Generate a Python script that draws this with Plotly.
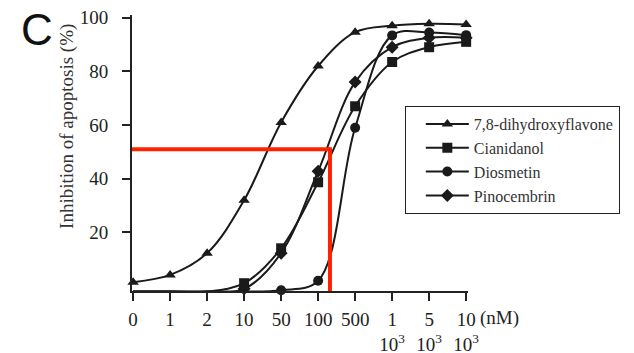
import plotly.graph_objects as go

# Concentrations (categorical positions)
conc_labels = ["0", "1", "2", "10", "50", "100", "500",
               "1<br>10<sup>3</sup>", "5<br>10<sup>3</sup>", "10<br>10<sup>3</sup>"]
x_idx = list(range(len(conc_labels)))

dhf = [1.5, 4.2, 12.3, 32.0, 61.0, 82.0, 94.6, 97.0, 97.7, 97.5]
cianidanol = [-2.0, -2.0, -2.0, 1.1, 14.1, 38.7, 67.0, 83.5, 89.0, 91.0]
diosmetin = [-2.0, -2.0, -2.0, -2.0, -1.5, 2.0, 59.0, 93.4, 94.5, 93.5]
pinocembrin = [-2.0, -2.0, -2.0, -1.0, 12.3, 42.8, 76.0, 89.0, 92.5, 92.5]

ic50_x = 5.32   # position on the category scale
ic50_y = 51.0

series = [
    ("7,8-dihydroxyflavone", dhf, "triangle-up", 10),
    ("Cianidanol", cianidanol, "square", 10),
    ("Diosmetin", diosmetin, "circle", 10),
    ("Pinocembrin", pinocembrin, "diamond", 10),
]

fig = go.Figure()
for name, vals, sym, sz in series:
    fig.add_trace(go.Scatter(
        x=x_idx, y=vals, name=name, mode="lines+markers",
        line=dict(color="#1a1a1a", width=2, shape="spline", smoothing=1.0),
        marker=dict(symbol=sym, size=sz, color="#1a1a1a"),
        cliponaxis=False,
    ))

x0, x1 = -0.03, 9.05
y0, y1 = -1.8, 101

fig.add_shape(type="line", x0=x0, x1=ic50_x, y0=ic50_y, y1=ic50_y,
              line=dict(color="#ff2200", width=4), layer="above")
fig.add_shape(type="line", x0=ic50_x, x1=ic50_x, y0=ic50_y + 0.7, y1=y0,
              line=dict(color="#ff2200", width=4), layer="above")

serif = "Liberation Serif"
fig.update_layout(
    width=626, height=345,
    margin=dict(l=124, r=166, t=7, b=62, autoexpand=False),
    paper_bgcolor="white", plot_bgcolor="white",
    font=dict(family=serif, size=19, color="#222222"),
    showlegend=True,
    legend=dict(x=0.812, y=0.67, xanchor="left", yanchor="top",
                bgcolor="white", bordercolor="#222222", borderwidth=1,
                font=dict(family=serif, size=16, color="#333333"),
                tracegroupgap=0, itemwidth=43, indentation=15),
    xaxis=dict(range=[x0, x1], tickmode="array", tickvals=x_idx, ticktext=conc_labels,
               showline=True, linecolor="#222222", linewidth=2, automargin=False,
               ticks="outside", ticklen=8, tickwidth=2, tickcolor="#222222",
               showgrid=False, zeroline=False, ticklabelstandoff=2,
               ticklabeloverflow="allow"),
    yaxis=dict(range=[y0, y1], tickmode="array", tickvals=[20, 40, 60, 80, 100],
               showline=True, linecolor="#222222", linewidth=2, automargin=False,
               ticks="outside", ticklen=8, tickwidth=2, tickcolor="#222222",
               showgrid=False, zeroline=False, ticklabelstandoff=10,
               ticklabeloverflow="allow"),
    annotations=[
        dict(text="Inhibition of apoptosis (%)", textangle=-90, xref="paper", yref="paper",
             x=-0.193, y=0.595, xanchor="center", yanchor="middle", showarrow=False,
             font=dict(family=serif, size=19, color="#333333")),
        dict(text="C", xref="paper", yref="paper", x=-0.282, y=0.949,
             xanchor="center", yanchor="middle", showarrow=False,
             font=dict(family="Liberation Sans", size=44, color="#111111")),
        dict(text="(nM)", xref="paper", yref="paper", x=1.03, y=-0.098,
             xanchor="left", yanchor="middle", showarrow=False,
             font=dict(family=serif, size=19, color="#222222")),
    ],
)

fig.write_html("out.html")
